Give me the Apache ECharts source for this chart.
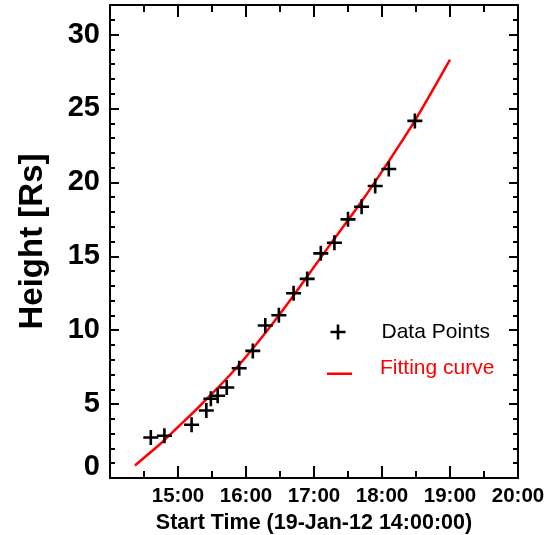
<!DOCTYPE html>
<html>
<head>
<meta charset="utf-8">
<script src="https://cdn.jsdelivr.net/npm/echarts@6/dist/echarts.min.js"></script>
<style>
html,body{margin:0;padding:0;background:#fff;}
#c{width:547px;height:535px;}
</style>
</head>
<body>
<div id="c"></div>
<script>
// Observed data points (start time, height in solar radii)
const pointTimes = ['14:36','14:48','15:12','15:25','15:29','15:35','15:43','15:54','16:06','16:17',
                    '16:29','16:42','16:54','17:06','17:18','17:30','17:42','17:54','18:06','18:29'];
const pointHeights = [2.74, 2.86, 3.60, 4.57, 5.36, 5.56, 6.12, 7.43, 8.60, 10.32,
                      11.01, 12.50, 13.47, 15.20, 15.92, 17.50, 18.35, 19.75, 20.90, 24.16];
// Fitting curve
const curveTimes = ['14:22','14:45','15:00','15:15','15:30','15:45','16:00','16:21','16:42','17:11','17:41','18:04','18:30','19:00'];
const curveHeights = [0.85, 2.35, 3.45, 4.55, 5.7, 6.9, 8.2, 10.2, 12.35, 15.45, 18.6, 21.2, 24.3, 28.3];
// Tick labels
const xTickValues = [1, 2, 3, 4, 5, 6];
const xTickLabels = ['15:00','16:00','17:00','18:00','19:00','20:00'];
const yTickValues = [0, 5, 10, 15, 20, 25, 30];
const yTickLabels = ['0','5','10','15','20','25','30'];
const startRef = '14:00';
const xTitle = 'Start Time (19-Jan-12 14:00:00)';
const yTitle = 'Height [Rs]';
const seriesNames = ['Data Points', 'Fitting curve'];

function hoursSince(t) {
  const [h, m] = t.split(':').map(Number);
  const [h0, m0] = startRef.split(':').map(Number);
  return (h * 60 + m - (h0 * 60 + m0)) / 60;
}
const pointData = pointTimes.map((t, i) => [hoursSince(t), pointHeights[i]]);
const curveData = curveTimes.map((t, i) => [hoursSince(t), curveHeights[i]]);

const FONT = '"Liberation Sans", Arial, Helvetica, sans-serif';
const crossPath = 'path://M6.2,0H8.8V6.2H15V8.8H8.8V15H6.2V8.8H0V6.2H6.2Z';
const linePath = 'path://M0,0h0.05v0.05h-0.05z M0,11.5h25v2.5h-25z';

const axisLineStyle = { show: true, onZero: false, lineStyle: { color: '#000', width: 2 } };

const chart = echarts.init(document.getElementById('c'), null, { renderer: 'canvas' });
chart.setOption({
  animation: false,
  backgroundColor: '#fff',
  grid: { left: 110, right: 29, top: 5, bottom: 57, containLabel: false, outerBoundsMode: 'none' },
  legend: [
    {
      data: [{ name: seriesNames[0], icon: crossPath }],
      left: 330.5, top: 321.5, padding: 0,
      itemWidth: 15, itemHeight: 15,
      selectedMode: false,
      textStyle: { fontFamily: FONT, fontSize: 21, color: '#000', padding: [0, 0, 0, 31] }
    },
    {
      data: [{ name: seriesNames[1], icon: linePath, textStyle: { color: '#ff0000' } }],
      left: 327, top: 357.5, padding: 0,
      itemWidth: 25, itemHeight: 14,
      selectedMode: false,
      textStyle: { fontFamily: FONT, fontSize: 21, color: '#ff0000', padding: [0, 0, 0, 23] }
    }
  ],
  xAxis: [
    {
      type: 'value', position: 'bottom', min: 0, max: 6, interval: 1,
      axisLine: axisLineStyle,
      axisTick: { show: true, inside: true, length: 12, lineStyle: { color: '#000', width: 2 } },
      minorTick: { show: true, splitNumber: 2, length: 7, lineStyle: { color: '#000', width: 2 } },
      splitLine: { show: false }, minorSplitLine: { show: false },
      axisLabel: {
        margin: 8, fontFamily: FONT, fontSize: 20.5, fontWeight: 'bold', color: '#000',
        showMinLabel: false,
        formatter: v => { const i = xTickValues.indexOf(v); return i >= 0 ? xTickLabels[i] : ''; }
      },
      name: xTitle, nameLocation: 'middle', nameGap: 30,
      nameTextStyle: { fontFamily: FONT, fontSize: 21.5, fontWeight: 'bold', color: '#000' }
    },
    {
      type: 'value', position: 'top', min: 0, max: 6, interval: 1,
      axisLine: axisLineStyle,
      axisTick: { show: true, inside: true, length: 12, lineStyle: { color: '#000', width: 2 } },
      minorTick: { show: true, splitNumber: 2, length: 7, lineStyle: { color: '#000', width: 2 } },
      splitLine: { show: false }, axisLabel: { show: false }
    }
  ],
  yAxis: [
    {
      type: 'value', position: 'left', min: 0, max: 32, interval: 5,
      axisLine: axisLineStyle,
      axisTick: { show: true, inside: true, length: 9, customValues: yTickValues, lineStyle: { color: '#000', width: 2 } },
      minorTick: { show: true, splitNumber: 5, length: 5, lineStyle: { color: '#000', width: 2 } },
      splitLine: { show: false }, minorSplitLine: { show: false },
      axisLabel: {
        margin: 10, fontFamily: FONT, fontSize: 29, lineHeight: 22, fontWeight: 'bold', color: '#000',
        customValues: yTickValues,
        verticalAlignMinLabel: 'bottom',
        formatter: v => { const i = yTickValues.indexOf(v); return i >= 0 ? yTickLabels[i] : ''; }
      },
      name: yTitle, nameLocation: 'middle', nameGap: 61,
      nameTextStyle: { fontFamily: FONT, fontSize: 33, fontWeight: 'bold', color: '#000' }
    },
    {
      type: 'value', position: 'right', min: 0, max: 32, interval: 5,
      axisLine: axisLineStyle,
      axisTick: { show: true, inside: true, length: 9, customValues: yTickValues, lineStyle: { color: '#000', width: 2 } },
      minorTick: { show: true, splitNumber: 5, length: 5, lineStyle: { color: '#000', width: 2 } },
      splitLine: { show: false }, axisLabel: { show: false }
    }
  ],
  series: [
    {
      name: seriesNames[1], type: 'line', xAxisIndex: 0, yAxisIndex: 0,
      data: curveData, smooth: 0.3, showSymbol: false, symbol: 'none',
      lineStyle: { color: '#ff0000', width: 2.5 }, itemStyle: { color: '#ff0000' },
      z: 2
    },
    {
      name: seriesNames[0], type: 'scatter', xAxisIndex: 0, yAxisIndex: 0,
      data: pointData, symbol: crossPath, symbolSize: 15,
      itemStyle: { color: '#000', opacity: 1 },
      z: 3
    }
  ]
});
</script>
</body>
</html>
